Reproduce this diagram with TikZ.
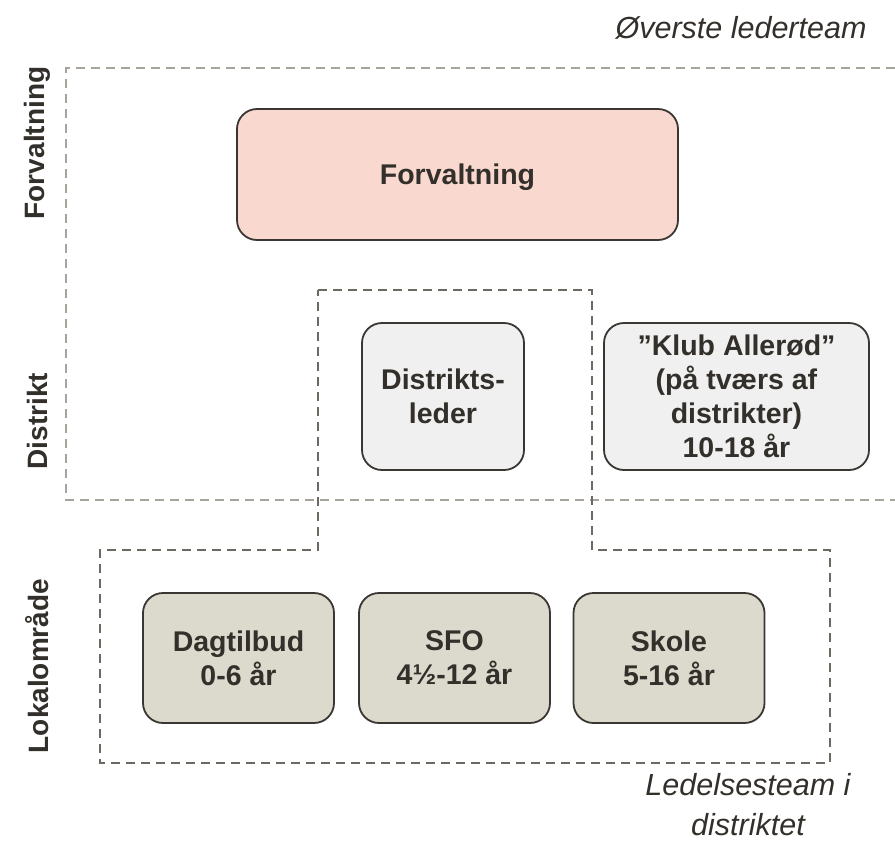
\documentclass[tikz,border=0pt]{standalone}
\usepackage{fontspec}
\setmainfont{Liberation Sans}
\usetikzlibrary{positioning}
\definecolor{txt}{HTML}{332F2B}
\definecolor{edge}{HTML}{3A3632}
\definecolor{pinkf}{HTML}{F9D9CF}
\definecolor{greyf}{HTML}{F0F0F0}
\definecolor{tanf}{HTML}{DCD9CD}
\definecolor{dashlight}{HTML}{A8A39C}
\definecolor{dashdark}{HTML}{6E6862}
\tikzset{
  box/.style={draw=edge, line width=1.8pt, rounded corners=20pt, text=txt,
    font=\fontsize{28.5}{34}\selectfont\bfseries, align=center, inner sep=0pt},
  sidelabel/.style={text=txt, font=\fontsize{28}{32}\selectfont\bfseries, rotate=90},
  note/.style={text=txt, font=\fontsize{30.5}{40}\selectfont\itshape, align=center},
  dashbox/.style={line width=1.5pt, dash pattern=on 9pt off 6pt}
}
\begin{document}
\begin{tikzpicture}[x=1pt,y=-1pt]
\useasboundingbox (0,0) rectangle (895,844);
% outer dashed frame
\coordinate (o1) at (895,68);
\coordinate (o2) at (66,68);
\coordinate (o3) at (66,500);
\coordinate (o4) at (895,500);
\draw[dashbox, draw=dashlight] (o1) -- (o2) -- (o3) -- (o4);
% district dashed outline
\coordinate (d1) at (318,290);
\coordinate (d2) at (592,290);
\coordinate (d3) at (592,550);
\coordinate (d4) at (830,550);
\coordinate (d5) at (830,763);
\coordinate (d6) at (100,763);
\coordinate (d7) at (100,550);
\coordinate (d8) at (318,550);
\draw[dashbox, draw=dashdark] (d1) -- (d2) -- (d3) -- (d4) -- (d5) -- (d6) -- (d7) -- (d8) -- cycle;
% boxes
\node[box, fill=pinkf, minimum width=441pt, minimum height=131pt, text depth=0pt] (forv) at (457.5,174.5) {Forvaltning};
\node[box, fill=greyf, minimum width=162pt, minimum height=147pt] (dl) at (443,396.5) {Distrikts-\\leder};
\node[box, fill=greyf, minimum width=265pt, minimum height=147pt] (klub) at (736.5,396.5) {”Klub Allerød”\\(på tværs af\\distrikter)\\10-18 år};
\node[box, fill=tanf, minimum width=191pt, minimum height=130pt] (dag) at (238.5,658) {Dagtilbud\\0-6 år};
\node[box, fill=tanf, minimum width=191pt, minimum height=130pt] (sfo) at (454.5,658) {SFO\\4½-12 år};
\node[box, fill=tanf, minimum width=191pt, minimum height=130pt] (skole) at (669,658) {Skole\\5-16 år};
% side labels
\node[sidelabel] (lf) at (37,143) {Forvaltning};
\node[sidelabel] (ld) at (37,421) {Distrikt};
\node[sidelabel] (ll) at (37,666) {Lokalområde};
% notes
\node[note, anchor=east] (top) at (870,28) {Øverste lederteam};
\node[note] (bot) at (748,805) {Ledelsesteam i\\distriktet};
\end{tikzpicture}
\end{document}
